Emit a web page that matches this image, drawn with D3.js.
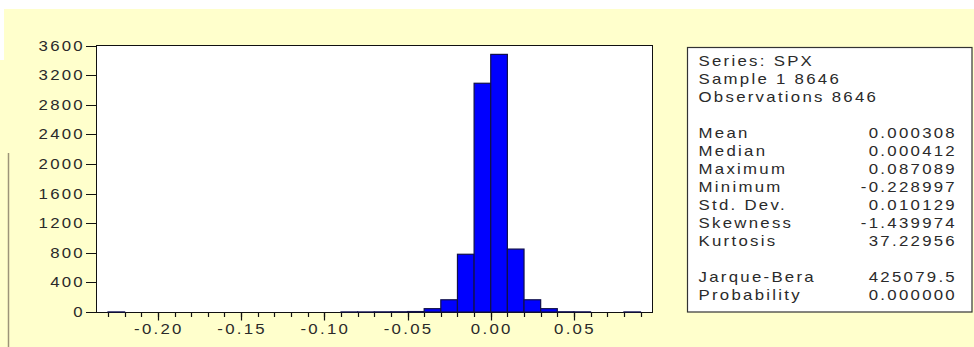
<!DOCTYPE html>
<html>
<head>
<meta charset="utf-8">
<script src="https://cdn.jsdelivr.net/npm/d3@7/dist/d3.min.js"></script>
<style>
  html, body { margin: 0; padding: 0; background: #ffffff; }
  svg { display: block; }
  text { font-family: "Liberation Sans", Arial, sans-serif; letter-spacing: 1.9px; }
</style>
</head>
<body>
<svg id="chart" width="974" height="347"></svg>
<script>
// ---- data ----
const binStarts = [-0.23, -0.09, -0.08, -0.07, -0.06, -0.05, -0.04, -0.03, -0.02, -0.01, 0.00, 0.01, 0.02, 0.03, 0.04, 0.05, 0.08];
const binCounts = [1, 1, 1, 2, 3, 6, 45, 165, 780, 3090, 3480, 850, 165, 45, 3, 2, 1];
const binWidth = 0.01;
const yTickValues = [0, 400, 800, 1200, 1600, 2000, 2400, 2800, 3200, 3600];
const xMajorTicks = [-0.20, -0.15, -0.10, -0.05, 0.00, 0.05];
const xTickLabels = ["-0.20", "-0.15", "-0.10", "-0.05", "0.00", "0.05"];
const headerLines = ["Series: SPX", "Sample 1 8646", "Observations 8646"];
const statLabels = ["Mean", "Median", "Maximum", "Minimum", "Std. Dev.", "Skewness", "Kurtosis", "", "Jarque-Bera", "Probability"];
const statValues = ["0.000308", "0.000412", "0.087089", "-0.228997", "0.010129", "-1.439974", "37.22956", "", "425079.5", "0.000000"];

// ---- layout ----
const svg = d3.select("#chart");
const SX = 1.2; // horizontal text stretch
const FS = 14;
const plot = { left: 96.5, right: 652.5, top: 45.5, bottom: 312.5 };

// background
svg.append("rect").attr("x", 0).attr("y", 0).attr("width", 974).attr("height", 347).attr("fill", "#ffffff");
svg.append("rect").attr("x", 4).attr("y", 9).attr("width", 970).attr("height", 338).attr("fill", "#FFFFCC");
svg.append("rect").attr("x", 0).attr("y", 60).attr("width", 4).attr("height", 287).attr("fill", "#FFFFCC");
svg.append("line").attr("x1", 8.5).attr("x2", 8.5).attr("y1", 153).attr("y2", 347)
  .attr("stroke", "#9c9478").attr("stroke-width", 1.5);

const x = d3.scaleLinear().domain([-0.2369, 0.0972]).range([plot.left, plot.right]);
const y = d3.scaleLinear().domain([0, 3600]).range([plot.bottom - 0.5, plot.top]);

// plot area
svg.append("rect").attr("x", plot.left).attr("y", plot.top)
  .attr("width", plot.right - plot.left).attr("height", plot.bottom - plot.top)
  .attr("fill", "#ffffff").attr("stroke", "#111").attr("stroke-width", 1);

// bars
svg.append("g").selectAll("rect").data(binStarts).join("rect")
  .attr("x", (d) => x(d))
  .attr("width", (d) => x(d + binWidth) - x(d))
  .attr("y", (d, i) => y(binCounts[i]))
  .attr("height", (d, i) => y(0) - y(binCounts[i]))
  .attr("fill", "#0000ff")
  .attr("stroke", "#10104a")
  .attr("stroke-width", 1.2);

// y axis ticks and labels
const yg = svg.append("g");
yg.selectAll("line").data(yTickValues).join("line")
  .attr("x1", 86).attr("x2", plot.left)
  .attr("y1", (d) => Math.round(y(d)) + 0.5).attr("y2", (d) => Math.round(y(d)) + 0.5)
  .attr("stroke", "#111");
yg.selectAll("text").data(yTickValues).join("text")
  .attr("transform", (d) => `translate(85,${y(d) + 5}) scale(${SX},1)`)
  .attr("text-anchor", "end").attr("font-size", FS).attr("fill", "#2a2a2a")
  .text((d) => d);

// x axis ticks
const xMinor = d3.range(-23, 10).map((k) => k / 100);
const xg = svg.append("g");
xg.selectAll("line.minor").data(xMinor).join("line").attr("class", "minor")
  .attr("x1", (d) => Math.round(x(d)) + 0.5).attr("x2", (d) => Math.round(x(d)) + 0.5)
  .attr("y1", plot.bottom).attr("y2", plot.bottom + 4.5)
  .attr("stroke", "#111").attr("stroke-width", 1.2);
xg.selectAll("line.major").data(xMajorTicks).join("line").attr("class", "major")
  .attr("x1", (d) => Math.round(x(d)) + 0.5).attr("x2", (d) => Math.round(x(d)) + 0.5)
  .attr("y1", plot.bottom).attr("y2", plot.bottom + 8)
  .attr("stroke", "#111").attr("stroke-width", 1.2);
xg.selectAll("text").data(xMajorTicks).join("text")
  .attr("transform", (d) => `translate(${x(d) + 1},333.5) scale(${SX},1)`)
  .attr("text-anchor", "middle").attr("font-size", FS).attr("fill", "#2a2a2a")
  .text((d, i) => xTickLabels[i]);

// stats box
const box = { left: 687.5, right: 972, top: 47.5, bottom: 312 };
svg.append("rect").attr("x", box.left).attr("y", box.top)
  .attr("width", box.right - box.left).attr("height", box.bottom - box.top)
  .attr("fill", "#ffffff").attr("stroke", "#333").attr("stroke-width", 1.2);

const rowY = (i) => 60.7 + 18 * i + 5;
const sg = svg.append("g").attr("font-size", FS).attr("fill", "#2a2a2a");
sg.selectAll("text.hdr").data(headerLines).join("text").attr("class", "hdr")
  .attr("transform", (d, i) => `translate(698.5,${rowY(i)}) scale(${SX},1)`)
  .text((d) => d);
sg.selectAll("text.lbl").data(statLabels).join("text").attr("class", "lbl")
  .attr("transform", (d, i) => `translate(698.5,${rowY(i + 4)}) scale(${SX},1)`)
  .text((d) => d);
sg.selectAll("text.val").data(statValues).join("text").attr("class", "val")
  .attr("text-anchor", "end")
  .attr("transform", (d, i) => `translate(957,${rowY(i + 4)}) scale(${SX},1)`)
  .text((d) => d);
</script>
</body>
</html>
